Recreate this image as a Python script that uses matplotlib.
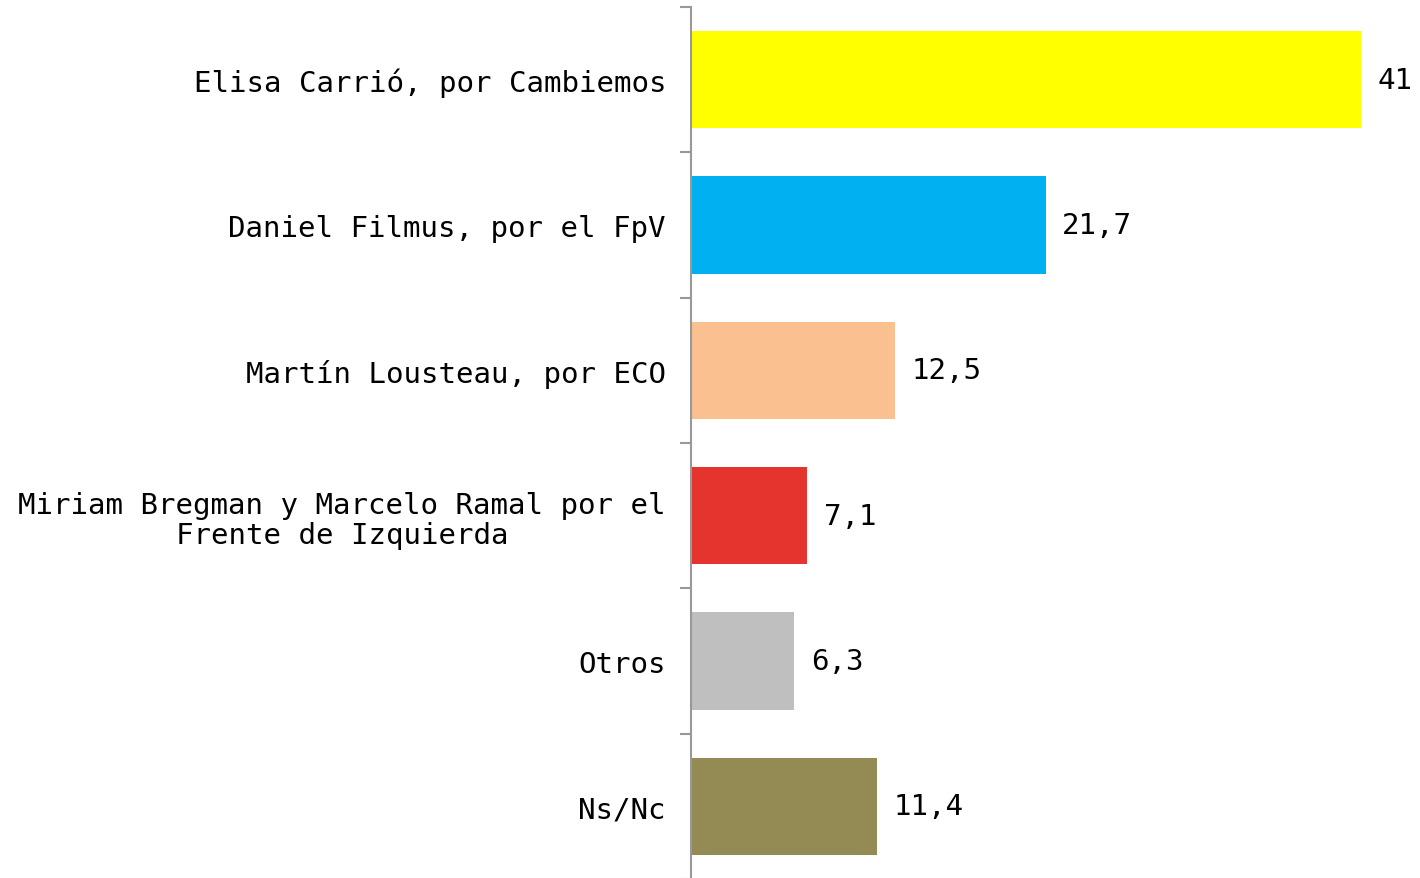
import matplotlib.pyplot as plt
import numpy as np

categories = [
    'Elisa Carrió, por Cambiemos',
    'Daniel Filmus, por el FpV',
    'Martín Lousteau, por ECO',
    'Miriam Bregman y Marcelo Ramal por el\nFrente de Izquierda',
    'Otros',
    'Ns/Nc',
]
values = [41, 21.7, 12.5, 7.1, 6.3, 11.4]
value_labels = ['41', '21,7', '12,5', '7,1', '6,3', '11,4']
colors = ['#FFFF00', '#00B0F0', '#FAC090', '#E5332E', '#BFBFBF', '#948A54']

plt.rcParams['font.family'] = ['DejaVu Sans Mono']

fig = plt.figure(figsize=(14.2, 8.79), dpi=100)
ax = fig.add_axes([691 / 1420, -1 / 879, 1 - 691 / 1420, 872 / 879])

y = np.arange(len(categories))
ax.barh(y, values, height=0.67, color=colors)

for yi, v, lab in zip(y, values, value_labels):
    ax.annotate(lab, xy=(v, yi), xytext=(12, 0), textcoords='offset points',
                ha='left', va='center', fontsize=21, color='#000000')

ax.set_ylim(len(categories) - 0.5, -0.5)
ax.set_xlim(0, 44.6)

ax.set_yticks(y)
ax.set_yticklabels(categories, fontsize=21, multialignment='center',
                   linespacing=1.1)
ax.tick_params(axis='y', which='major', length=0, pad=18)
ax.set_yticks(np.arange(-0.5, len(categories)), minor=True)
ax.tick_params(axis='y', which='minor', length=8, width=1.5, color='#999999')

ax.set_xticks([])
for side in ['top', 'right', 'bottom']:
    ax.spines[side].set_visible(False)
ax.spines['left'].set_color('#999999')
ax.spines['left'].set_linewidth(1.5)

fig.savefig('out.png', dpi=100)
